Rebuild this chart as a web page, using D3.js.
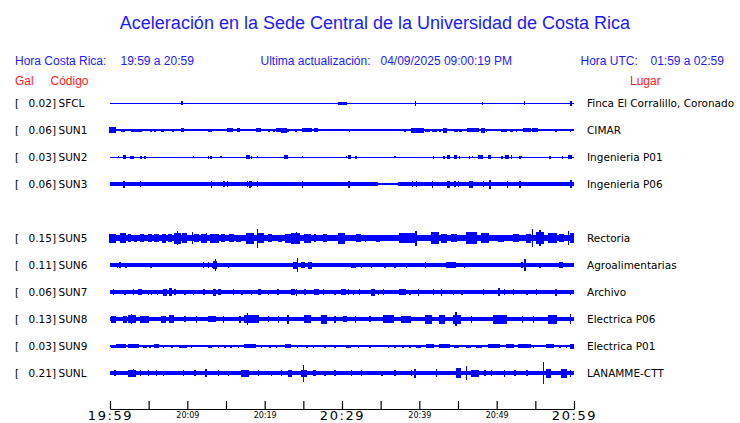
<!DOCTYPE html>
<html><head><meta charset="utf-8">
<script src="https://cdn.jsdelivr.net/npm/d3@7"></script>
<style>
html,body{margin:0;padding:0;background:#fff;}
svg{display:block;}
</style></head>
<body>
<svg id="chart" width="740" height="423"></svg>
<script>
// ---------------- DATA ----------------
const title = "Aceleración en la Sede Central de la Universidad de Costa Rica";
const localRange = "19:59 a 20:59";
const utcRange = "01:59 a 02:59";
const updated = "04/09/2025 09:00:19 PM";
const startTime = "19:59", endTime = "20:59";
const tickTimes = ["19:59","20:04","20:09","20:14","20:19","20:24","20:29","20:34","20:39","20:44","20:49","20:54","20:59"];
const bigTickLabels = ["19:59","20:29","20:59"];
const smallTickLabels = ["20:09","20:19","20:39","20:49"];
const rowSlots = ["SFCL","SUN1","SUN2","SUN3","SUN4","SUN5","SUN6","SUN7","SUN8","SUN9","SUNL"];
const codes = ["SFCL","SUN1","SUN2","SUN3","SUN5","SUN6","SUN7","SUN8","SUN9","SUNL"];
const peakGal = [0.02,0.06,0.03,0.06,0.15,0.11,0.06,0.13,0.03,0.21];
const places = ["Finca El Corralillo, Coronado","CIMAR","Ingenieria P01","Ingenieria P06","Rectoria","Agroalimentarias","Archivo","Electrica P06","Electrica P01","LANAMME-CTT"];
// background (noise) level: [fromMinute, toMinute, halfAmplitude]
const baseLevels = {
  SFCL:[[0,60,0.5]], SUN1:[[0,60,0.6]], SUN2:[[0,60,0.5]],
  SUN3:[[0,34.6,2],[34.6,37.3,0.6],[37.3,60,2]],
  SUN5:[[0,60,2.7]], SUN6:[[0,60,1.7]], SUN7:[[0,60,1.7]], SUN8:[[0,60,2.4]],
  SUN9:[[0,60,0.6]], SUNL:[[0,60,1.8]]
};
// bursts: [fromMinute, toMinute, halfAmplitude] (minutes after 19:59)
const SFCL = [[9.3,9.4,2],[29.5,30.6,1.5],[39.5,39.5,2.5],[48.2,48.2,1.5],[53.6,53.6,2],[59.6,59.6,2.5]];
const SUN1 = [[0,0.65,3],[1.5,1.9,1.5],[2.8,3.9,1.5],[4.1,4.1,1.5],[4.5,4.5,1],[5.3,5.3,1.5],[5.8,5.8,1.5],[6.7,6.9,1.5],[7.85,7.85,1],[8.15,8.15,1.5],[9.2,9.5,2],[9.8,9.8,1],[10.3,10.55,1],[11.5,11.5,1],[12.8,13.05,1.5],[15.25,15.85,2],[16.5,16.7,2],[18.1,18.1,1],[19.0,19.5,2],[19.8,19.8,1],[20.55,20.55,1.5],[21.1,21.3,1.5],[21.6,22.1,2],[22.25,22.85,2.5],[23.0,23.0,1.5],[24.05,24.05,1.5],[24.6,24.6,1],[24.95,26.1,2],[26.5,26.85,2],[28.2,28.2,1],[29.1,29.1,1],[29.95,29.95,1],[31.0,31.0,1.5],[33.5,33.5,1],[37.6,37.6,1],[38.15,38.15,1.5],[38.6,38.6,1],[39.0,40.5,2.5],[40.85,41.3,1.5],[41.75,42.25,1.5],[42.65,42.65,1.5],[43.2,43.5,2.5],[44.5,44.9,1.5],[45.15,45.4,1.5],[45.7,46.0,1],[46.3,47.6,2],[48.05,48.4,2.5],[48.7,48.7,1.5],[49.55,49.55,1],[50.2,50.2,1],[50.7,51.3,1.5],[51.8,52.05,1.5],[52.6,52.6,1.5],[53.45,54.3,2],[54.65,55.25,2],[56.45,56.45,1],[57.65,57.65,1.5],[58.4,58.4,1],[59.5,59.5,1.5]];
const SUN2 = [[1.05,1.05,1],[1.7,2.0,2],[2.7,2.7,1.5],[2.95,2.95,1.5],[4.0,4.0,1.5],[4.5,4.5,1.5],[10.75,10.75,1],[12.7,12.7,1.5],[13.05,13.05,1.5],[14.35,14.35,1],[17.7,18.0,2],[18.3,18.3,1.5],[19.05,19.05,1],[22.6,23.0,2],[24.85,24.85,1],[30.6,30.6,1],[30.8,31.1,2],[31.8,31.8,1.5],[36.85,36.85,1],[41.8,41.8,1.5],[43.2,43.2,1.5],[43.6,43.9,2],[44.6,44.8,2],[45.15,45.15,1.5],[46.45,46.45,1.5],[46.9,46.9,1],[47.6,48.2,2],[48.9,49.2,2],[50.7,50.7,1.5],[51.15,51.5,2],[51.95,51.95,2],[53.0,53.0,1.5],[53.2,53.2,1],[56.9,56.9,1.5],[58.55,58.55,1.5],[59.25,59.7,2]];
const SUN3 = [[1.8,1.8,3.5],[3.9,3.9,3],[13.15,13.15,3.5],[14.75,14.75,3],[15.15,15.15,3],[17.75,17.75,3],[18.1,18.1,3.5],[18.3,18.3,3],[19.05,19.05,3],[24.85,24.85,3.5],[30.9,30.9,3.5],[39.1,39.1,3],[39.65,39.65,3],[41.7,41.7,3.5],[43.65,43.85,3.5],[44.6,44.6,3],[45.1,45.1,3],[46.55,46.85,3.5],[48.25,48.25,3],[49.15,49.15,4.5],[51.35,51.35,3.5],[53.0,53.0,3.5],[59.5,59.7,4]];
const SUN5 = [[0,0.65,4.5],[1.4,2.0,5],[2.35,2.7,4],[3.15,3.45,3.5],[3.9,4.3,4],[4.95,5.4,4],[5.8,6.25,4],[6.75,7.2,4.5],[7.55,8.0,4],[8.4,9.05,5.5],[8.75,8.75,7],[9.35,9.9,5],[10.65,10.65,6],[11.0,11.4,4],[11.85,12.3,4.5],[12.5,12.5,5],[13.05,14.0,4.5],[14.45,14.85,4],[15.5,15.95,4],[16.4,16.8,3.5],[17.7,18.55,5.5],[19.05,19.05,9.5],[19.2,19.8,5],[20.45,20.9,4],[21.75,22.2,3.5],[22.65,23.3,4.5],[23.5,24.55,5.5],[24.15,24.15,6],[25.2,25.85,4.5],[26.5,26.5,4],[27.6,28.0,4],[29.5,30.3,5.5],[31.9,32.35,4],[33.0,33.0,3.5],[34.5,34.9,3.5],[37.5,39.45,5],[39.55,39.55,7.5],[41.6,42.45,6],[42.9,43.55,4.5],[44.2,44.85,4],[46.1,47.4,6],[48.05,48.9,5],[50.2,50.85,3.5],[52.15,52.8,4],[53.9,54.3,4.5],[54.65,54.65,9],[55.15,56.0,6],[55.6,55.6,8],[56.7,57.75,5],[58.2,58.6,4],[59.25,59.25,7],[59.5,59.9,5]];
const SUN6 = [[1.0,1.0,2.5],[1.3,1.3,3],[2.05,2.05,2.5],[5.3,5.3,2.5],[12.05,12.05,3],[12.7,12.7,3],[13.25,13.25,2.5],[13.35,13.8,4],[13.6,13.6,6],[15.3,15.3,2.5],[23.7,24.15,3.5],[24.25,24.25,7],[24.8,25.2,3],[25.65,26.1,3.5],[31.25,31.7,2.5],[32.55,32.55,2.5],[33.85,33.85,2.5],[35.55,35.55,2.5],[36.85,36.85,2.5],[38.35,38.35,2.5],[40.75,40.75,3],[43.55,44.6,3],[45.8,45.8,2.5],[53.25,53.25,3],[53.65,53.65,6],[55.6,55.6,2.5],[58.2,58.55,3]];
const SUN7 = [[0.45,0.45,3],[1.95,1.95,2.5],[3.0,3.0,3],[3.65,4.0,3],[4.95,4.95,2.5],[5.4,5.4,2.5],[6.1,6.1,2.5],[6.9,7.35,3.5],[7.65,8.0,4],[8.4,8.4,3],[9.7,9.7,2.5],[10.75,10.75,2.5],[12.15,12.15,3],[13.35,13.6,3.5],[14.0,14.3,3],[15.95,15.95,3],[17.05,17.05,2.5],[18.3,18.3,2.5],[19.2,19.4,3],[20.45,20.45,2.5],[21.7,21.7,3],[23.5,23.9,3],[24.15,24.15,3.5],[25.2,25.2,3],[26.5,26.95,3],[27.6,27.6,3],[29.1,29.1,2.5],[29.95,30.4,3],[30.8,30.8,3],[31.45,31.45,2.5],[32.3,32.3,3],[33.85,34.25,3.5],[34.7,34.7,2.5],[35.35,35.35,3],[37.4,38.15,3],[38.8,38.8,2.5],[39.85,39.85,3.5],[41.8,41.8,3],[42.9,42.9,3.5],[44.4,44.4,2.5],[45.5,45.5,2.5],[48.25,48.25,3],[50.2,50.4,4],[51.05,51.05,3],[52.15,52.15,3],[53.9,53.9,2.5],[55.15,55.15,3],[57.65,57.65,3.5],[59.5,59.5,2.5]];
const SUN8 = [[0.2,0.65,3.5],[1.7,2.15,3.5],[2.35,3.25,4],[2.8,2.8,5],[3.9,4.95,3.5],[6.7,7.1,3.5],[7.75,8.2,4],[9.7,9.7,3],[11.2,11.2,3.5],[12.7,13.6,3],[14.65,14.65,3.5],[16.8,16.8,3.5],[17.45,19.2,4],[17.8,17.8,6],[20.45,20.45,3],[21.75,21.75,3.5],[23.0,23.0,4.5],[25.2,25.85,4],[27.35,28.0,4.5],[29.1,29.1,3.5],[30.15,30.6,3],[31.7,31.7,3.5],[33.6,33.6,3],[35.35,36.6,4],[37.7,38.8,3.5],[40.75,41.6,4.5],[42.65,43.3,4.5],[44.4,45.25,4.5],[44.75,44.75,7],[46.75,46.75,3.5],[49.55,51.3,4.5],[53.3,53.3,3.5],[54.75,54.75,3.5],[56.7,57.75,4.5],[59.5,59.5,5]];
const SUN9 = [[0.2,0.65,1.5],[0.85,1.95,2],[2.35,3.65,2],[4.3,4.75,1.5],[5.15,5.15,1.5],[5.8,6.25,2],[6.9,6.9,1.5],[8.0,8.0,1.5],[9.05,9.9,1.5],[10.55,10.55,1.5],[12.7,13.15,1.5],[14.0,14.0,1.5],[14.85,14.85,1.5],[15.65,15.65,1.5],[16.6,16.6,1.5],[17.45,18.75,2],[19.6,19.6,1.5],[20.7,20.7,1.5],[21.55,21.55,1.5],[22.65,23.3,2],[24.25,24.25,1.5],[25.45,25.45,1.5],[26.3,26.3,1.5],[27.8,27.8,1.5],[29.1,29.1,1.5],[30.6,31.05,1.5],[32.1,32.1,1.5],[33.6,33.6,1.5],[36.0,36.0,1.5],[36.85,36.85,1.5],[37.9,37.9,1.5],[38.8,38.8,1.5],[39.65,40.1,1.5],[40.95,41.8,2],[42.65,43.95,2],[44.6,45.05,1.5],[46.1,46.55,1.5],[47.4,48.05,1.5],[48.9,50.4,2],[51.3,52.15,2],[52.8,54.3,2],[54.75,54.75,1.5],[56.45,57.3,2],[58.2,58.2,1.5],[59.05,59.05,1.5],[59.5,59.9,2.5]];
const SUNL = [[0.65,0.65,3],[2.35,3.25,3.5],[3.0,3.0,4],[3.9,3.9,3],[4.95,4.95,3],[6.05,6.05,3],[6.9,6.9,2.5],[9.5,9.5,3],[11.0,11.0,3],[12.4,12.4,4],[14.0,14.0,3],[15.3,15.3,2.5],[17.05,17.9,3.5],[19.2,19.2,3],[20.9,20.9,2.5],[22.2,22.2,3],[23.05,23.5,3.5],[24.8,25.45,3.5],[25.0,25.0,8.5],[26.3,26.5,3],[27.8,27.8,2.5],[29.1,29.1,3],[31.25,31.25,3],[32.55,32.55,3],[35.15,35.15,2.5],[36.85,36.85,3],[39.0,39.0,3],[39.45,39.45,4.5],[42.25,42.25,4],[44.8,45.25,5],[46.1,46.1,7],[46.75,47.6,3.5],[48.5,48.5,3],[49.35,49.35,3],[51.05,51.05,3.5],[52.35,52.35,3],[53.9,53.9,3],[56.05,56.05,11],[56.45,56.9,4.5],[58.4,59.05,4.5],[59.5,59.5,3.5]];
const bursts = {SFCL,SUN1,SUN2,SUN3,SUN5,SUN6,SUN7,SUN8,SUN9,SUNL};

// ---------------- DRAW ----------------
const svg = d3.select("#chart");
const blue = "#0000ff", textBlue = "#1a1aff", red = "#ff1a1a";
const parseT = d3.timeParse("%H:%M");
const t0 = parseT(startTime), t1 = parseT(endTime);
const atMin = m => new Date(t0.getTime() + m*60000);

const x = d3.scaleTime().domain([t0, t1]).range([110, 574]);
const y = d3.scalePoint().domain(rowSlots).range([103, 373]);
const amp = d3.scaleLinear().domain([0, 12]).range([0, 12]);

const hdrFont = "'Liberation Sans', Arial, sans-serif";
const lblFont = "'DejaVu Sans', sans-serif";

svg.append("text").attr("x", 375).attr("y", 29).attr("text-anchor","middle")
  .attr("font-family", hdrFont).attr("font-size", 18).attr("fill", textBlue).text(title);

const hdr = [
  {x:15, t:"Hora Costa Rica:"}, {x:120.5, t:localRange},
  {x:260.5, t:"Ultima actualización:"}, {x:380.5, t:updated},
  {x:580.5, t:"Hora UTC:"}, {x:650.5, t:utcRange}
];
svg.selectAll("text.hdr").data(hdr).join("text").attr("class","hdr")
  .attr("x", d=>d.x).attr("y", 65).attr("font-family", hdrFont).attr("font-size", 12)
  .attr("fill", textBlue).text(d=>d.t);

const colHdr = [{x:15,t:"Gal"},{x:50.5,t:"Código"},{x:630,t:"Lugar"}];
svg.selectAll("text.col").data(colHdr).join("text").attr("class","col")
  .attr("x", d=>d.x).attr("y", 85).attr("font-family", hdrFont).attr("font-size", 12)
  .attr("fill", red).text(d=>d.t);

const stations = codes.map((c,i)=>({code:c, gal:peakGal[i], place:places[i]}));
const g = svg.selectAll("g.st").data(stations).join("g").attr("class","st")
  .attr("transform", d=>`translate(0,${y(d.code)})`);

g.append("text").attr("x",15).attr("y",4).attr("font-family",lblFont).attr("font-size",10.5)
  .attr("fill","#000").text("[");
g.append("text").attr("x",56).attr("y",4).attr("text-anchor","end").attr("font-family",lblFont)
  .attr("font-size",10.5).attr("fill","#000").text(d=>d3.format(".2f")(d.gal)+"]");
g.append("text").attr("x",58.5).attr("y",4).attr("font-family",lblFont).attr("font-size",10.5)
  .attr("fill","#000").text(d=>d.code);
g.append("text").attr("x",587).attr("y",4).attr("font-family",lblFont).attr("font-size",10.5)
  .attr("fill","#000").text(d=>d.place);

g.each(function(d){
  const gg = d3.select(this);
  gg.selectAll("rect.base").data(baseLevels[d.code]).join("rect").attr("class","base")
    .attr("x", b=>x(atMin(b[0]))).attr("width", b=>x(atMin(b[1]))-x(atMin(b[0])))
    .attr("y", b=>-amp(b[2])).attr("height", b=>2*amp(b[2]))
    .attr("fill", blue).attr("shape-rendering","crispEdges");
  gg.selectAll("rect.burst").data(bursts[d.code]).join("rect").attr("class","burst")
    .attr("x", b=>x(atMin(b[0]))-0.6)
    .attr("width", b=>Math.max(1.3, x(atMin(b[1]))-x(atMin(b[0]))+1.2))
    .attr("y", b=>-amp(b[2])).attr("height", b=>2*amp(b[2]))
    .attr("fill", blue).attr("shape-rendering","crispEdges");
});

// time axis
const tickVals = tickTimes.map(parseT);
const axis = d3.axisBottom(x).tickValues(tickVals).tickSizeInner(-8).tickSizeOuter(0)
  .tickPadding(4).tickFormat(d3.timeFormat("%H:%M"));
const ax = svg.append("g").attr("transform","translate(0,409)").call(axis);
ax.select(".domain").attr("stroke","#000").attr("stroke-width",1.2);
ax.selectAll(".tick line").attr("stroke","#000").attr("stroke-width",1.2);
ax.selectAll(".tick text").each(function(d){
  const s = d3.timeFormat("%H:%M")(d);
  const t = d3.select(this).attr("fill","#000").attr("font-family", lblFont);
  if (bigTickLabels.includes(s)) {
    t.attr("font-size", 13).attr("letter-spacing","1.6px").attr("dy","0.75em").attr("y",1);
  } else if (smallTickLabels.includes(s)) {
    t.attr("font-size", 8).attr("dy","0.75em").attr("y",2.5);
  } else {
    t.text("");
  }
});
</script>
</body></html>
